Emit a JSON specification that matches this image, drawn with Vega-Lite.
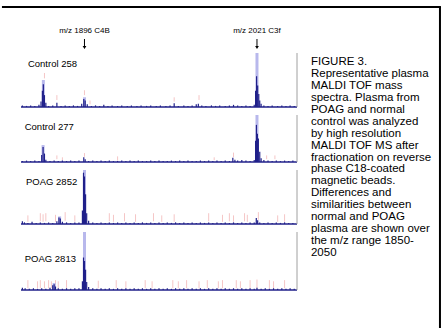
{
"$schema": "https://vega.github.io/schema/vega-lite/v6.json",
"padding": {"left": 0, "top": 6, "right": 0, "bottom": 0},
"background": "white",
"config": {"font": "Liberation Sans", "view": {"stroke": null}},
"datasets": {
"spec": [
{"p":"A","mz":1867,"i":63,"b":53,"k":"t"},{"p":"A","mz":1876,"i":22,"b":13,"k":"t"},{"p":"A","mz":1896,"i":31,"b":22,"k":"t"},{"p":"A","mz":1961,"i":18,"b":10,"k":"t"},{"p":"A","mz":1979,"i":22,"b":13,"k":"t"},{"p":"A","mz":1900,"i":12,"b":5,"k":"t"},
{"p":"A","mz":1866.2,"i":50,"b":0,"k":"h"},{"p":"A","mz":1896,"i":18,"b":0,"k":"h"},{"p":"A","mz":2021,"i":100,"b":0,"k":"h"},
{"p":"A","mz":1851,"i":3,"b":0,"k":"d"},{"p":"A","mz":1854,"i":2,"b":0,"k":"d"},{"p":"A","mz":1857,"i":3,"b":0,"k":"d"},{"p":"A","mz":1860,"i":2,"b":0,"k":"d"},{"p":"A","mz":1863,"i":4,"b":0,"k":"d"},{"p":"A","mz":1864.5,"i":10,"b":0,"k":"d"},{"p":"A","mz":1865.5,"i":30,"b":0,"k":"d"},{"p":"A","mz":1866.2,"i":42,"b":0,"k":"d"},{"p":"A","mz":1867,"i":22,"b":0,"k":"d"},{"p":"A","mz":1868,"i":8,"b":0,"k":"d"},{"p":"A","mz":1870,"i":2,"b":0,"k":"d"},{"p":"A","mz":1873,"i":3,"b":0,"k":"d"},{"p":"A","mz":1876,"i":8,"b":0,"k":"d"},{"p":"A","mz":1879,"i":2,"b":0,"k":"d"},{"p":"A","mz":1882,"i":3,"b":0,"k":"d"},{"p":"A","mz":1885,"i":2,"b":0,"k":"d"},{"p":"A","mz":1888,"i":3,"b":0,"k":"d"},{"p":"A","mz":1891,"i":2,"b":0,"k":"d"},{"p":"A","mz":1894,"i":6,"b":0,"k":"d"},{"p":"A","mz":1895.5,"i":15,"b":0,"k":"d"},{"p":"A","mz":1896.5,"i":12,"b":0,"k":"d"},{"p":"A","mz":1898,"i":5,"b":0,"k":"d"},{"p":"A","mz":1901,"i":2,"b":0,"k":"d"},{"p":"A","mz":1904,"i":3,"b":0,"k":"d"},{"p":"A","mz":1907,"i":2,"b":0,"k":"d"},{"p":"A","mz":1910,"i":4,"b":0,"k":"d"},{"p":"A","mz":1913,"i":2,"b":0,"k":"d"},{"p":"A","mz":1916,"i":3,"b":0,"k":"d"},{"p":"A","mz":1920,"i":2,"b":0,"k":"d"},{"p":"A","mz":1923,"i":3,"b":0,"k":"d"},{"p":"A","mz":1927,"i":2,"b":0,"k":"d"},{"p":"A","mz":1930,"i":3,"b":0,"k":"d"},{"p":"A","mz":1934,"i":2,"b":0,"k":"d"},{"p":"A","mz":1937,"i":3,"b":0,"k":"d"},{"p":"A","mz":1941,"i":2,"b":0,"k":"d"},{"p":"A","mz":1944,"i":3,"b":0,"k":"d"},{"p":"A","mz":1948,"i":2,"b":0,"k":"d"},{"p":"A","mz":1951,"i":3,"b":0,"k":"d"},{"p":"A","mz":1955,"i":2,"b":0,"k":"d"},{"p":"A","mz":1958,"i":3,"b":0,"k":"d"},{"p":"A","mz":1961,"i":7,"b":0,"k":"d"},{"p":"A","mz":1964,"i":2,"b":0,"k":"d"},{"p":"A","mz":1968,"i":3,"b":0,"k":"d"},{"p":"A","mz":1971,"i":2,"b":0,"k":"d"},{"p":"A","mz":1974,"i":3,"b":0,"k":"d"},{"p":"A","mz":1977,"i":5,"b":0,"k":"d"},{"p":"A","mz":1978.5,"i":6,"b":0,"k":"d"},{"p":"A","mz":1981,"i":3,"b":0,"k":"d"},{"p":"A","mz":1984,"i":2,"b":0,"k":"d"},{"p":"A","mz":1988,"i":3,"b":0,"k":"d"},{"p":"A","mz":1991,"i":2,"b":0,"k":"d"},{"p":"A","mz":1994,"i":3,"b":0,"k":"d"},{"p":"A","mz":1998,"i":2,"b":0,"k":"d"},{"p":"A","mz":2001,"i":3,"b":0,"k":"d"},{"p":"A","mz":2004,"i":4,"b":0,"k":"d"},{"p":"A","mz":2007,"i":3,"b":0,"k":"d"},{"p":"A","mz":2010,"i":2,"b":0,"k":"d"},{"p":"A","mz":2013,"i":3,"b":0,"k":"d"},{"p":"A","mz":2016,"i":2,"b":0,"k":"d"},{"p":"A","mz":2019,"i":4,"b":0,"k":"d"},{"p":"A","mz":2020,"i":30,"b":0,"k":"d"},{"p":"A","mz":2020.7,"i":57,"b":0,"k":"d"},{"p":"A","mz":2021.5,"i":40,"b":0,"k":"d"},{"p":"A","mz":2022.3,"i":24,"b":0,"k":"d"},{"p":"A","mz":2023,"i":12,"b":0,"k":"d"},{"p":"A","mz":2024,"i":6,"b":0,"k":"d"},{"p":"A","mz":2026,"i":3,"b":0,"k":"d"},{"p":"A","mz":2029,"i":2,"b":0,"k":"d"},{"p":"A","mz":2032,"i":3,"b":0,"k":"d"},{"p":"A","mz":2036,"i":2,"b":0,"k":"d"},{"p":"A","mz":2039,"i":3,"b":0,"k":"d"},{"p":"A","mz":2042,"i":2,"b":0,"k":"d"},{"p":"A","mz":2045,"i":3,"b":0,"k":"d"},{"p":"A","mz":2048,"i":2,"b":0,"k":"d"},

{"p":"B","mz":1876,"i":14,"b":6,"k":"t"},{"p":"B","mz":1880,"i":10,"b":4,"k":"t"},{"p":"B","mz":1896,"i":19,"b":11,"k":"t"},{"p":"B","mz":1920,"i":12,"b":3,"k":"t"},{"p":"B","mz":2004,"i":20,"b":10,"k":"t"},{"p":"B","mz":2028,"i":14,"b":6,"k":"t"},{"p":"B","mz":2034,"i":14,"b":6,"k":"t"},{"p":"B","mz":1990,"i":10,"b":4,"k":"t"},
{"p":"B","mz":1866,"i":36,"b":0,"k":"h"},{"p":"B","mz":2021,"i":100,"b":0,"k":"h"},
{"p":"B","mz":1851,"i":2,"b":0,"k":"d"},{"p":"B","mz":1854,"i":3,"b":0,"k":"d"},{"p":"B","mz":1857,"i":2,"b":0,"k":"d"},{"p":"B","mz":1860,"i":3,"b":0,"k":"d"},{"p":"B","mz":1863,"i":2,"b":0,"k":"d"},{"p":"B","mz":1865,"i":15,"b":0,"k":"d"},{"p":"B","mz":1866,"i":32,"b":0,"k":"d"},{"p":"B","mz":1867,"i":18,"b":0,"k":"d"},{"p":"B","mz":1868,"i":5,"b":0,"k":"d"},{"p":"B","mz":1871,"i":2,"b":0,"k":"d"},{"p":"B","mz":1874,"i":3,"b":0,"k":"d"},{"p":"B","mz":1877,"i":2,"b":0,"k":"d"},{"p":"B","mz":1880,"i":3,"b":0,"k":"d"},{"p":"B","mz":1883,"i":2,"b":0,"k":"d"},{"p":"B","mz":1886,"i":3,"b":0,"k":"d"},{"p":"B","mz":1889,"i":2,"b":0,"k":"d"},{"p":"B","mz":1892,"i":3,"b":0,"k":"d"},{"p":"B","mz":1895.5,"i":10,"b":0,"k":"d"},{"p":"B","mz":1896.5,"i":6,"b":0,"k":"d"},{"p":"B","mz":1899,"i":2,"b":0,"k":"d"},{"p":"B","mz":1902,"i":3,"b":0,"k":"d"},{"p":"B","mz":1905,"i":2,"b":0,"k":"d"},{"p":"B","mz":1908,"i":3,"b":0,"k":"d"},{"p":"B","mz":1911,"i":2,"b":0,"k":"d"},{"p":"B","mz":1914,"i":3,"b":0,"k":"d"},{"p":"B","mz":1917,"i":2,"b":0,"k":"d"},{"p":"B","mz":1920,"i":2,"b":0,"k":"d"},{"p":"B","mz":1923,"i":3,"b":0,"k":"d"},{"p":"B","mz":1926,"i":2,"b":0,"k":"d"},{"p":"B","mz":1929,"i":3,"b":0,"k":"d"},{"p":"B","mz":1932,"i":2,"b":0,"k":"d"},{"p":"B","mz":1935,"i":3,"b":0,"k":"d"},{"p":"B","mz":1938,"i":2,"b":0,"k":"d"},{"p":"B","mz":1941,"i":2,"b":0,"k":"d"},{"p":"B","mz":1944,"i":3,"b":0,"k":"d"},{"p":"B","mz":1947,"i":2,"b":0,"k":"d"},{"p":"B","mz":1950,"i":3,"b":0,"k":"d"},{"p":"B","mz":1953,"i":2,"b":0,"k":"d"},{"p":"B","mz":1956,"i":2,"b":0,"k":"d"},{"p":"B","mz":1959,"i":3,"b":0,"k":"d"},{"p":"B","mz":1962,"i":2,"b":0,"k":"d"},{"p":"B","mz":1965,"i":3,"b":0,"k":"d"},{"p":"B","mz":1968,"i":2,"b":0,"k":"d"},{"p":"B","mz":1971,"i":3,"b":0,"k":"d"},{"p":"B","mz":1974,"i":2,"b":0,"k":"d"},{"p":"B","mz":1977,"i":2,"b":0,"k":"d"},{"p":"B","mz":1980,"i":3,"b":0,"k":"d"},{"p":"B","mz":1983,"i":2,"b":0,"k":"d"},{"p":"B","mz":1986,"i":3,"b":0,"k":"d"},{"p":"B","mz":1989,"i":2,"b":0,"k":"d"},{"p":"B","mz":1992,"i":3,"b":0,"k":"d"},{"p":"B","mz":1995,"i":2,"b":0,"k":"d"},{"p":"B","mz":1998,"i":3,"b":0,"k":"d"},{"p":"B","mz":2001,"i":2,"b":0,"k":"d"},{"p":"B","mz":2003.5,"i":9,"b":0,"k":"d"},{"p":"B","mz":2005,"i":5,"b":0,"k":"d"},{"p":"B","mz":2007,"i":3,"b":0,"k":"d"},{"p":"B","mz":2010,"i":4,"b":0,"k":"d"},{"p":"B","mz":2013,"i":3,"b":0,"k":"d"},{"p":"B","mz":2016,"i":2,"b":0,"k":"d"},{"p":"B","mz":2019,"i":4,"b":0,"k":"d"},{"p":"B","mz":2020,"i":45,"b":0,"k":"d"},{"p":"B","mz":2020.6,"i":79,"b":0,"k":"d"},{"p":"B","mz":2021.3,"i":60,"b":0,"k":"d"},{"p":"B","mz":2022,"i":50,"b":0,"k":"d"},{"p":"B","mz":2023,"i":22,"b":0,"k":"d"},{"p":"B","mz":2024,"i":8,"b":0,"k":"d"},{"p":"B","mz":2026,"i":4,"b":0,"k":"d"},{"p":"B","mz":2029,"i":3,"b":0,"k":"d"},{"p":"B","mz":2032,"i":2,"b":0,"k":"d"},{"p":"B","mz":2035,"i":3,"b":0,"k":"d"},{"p":"B","mz":2038,"i":2,"b":0,"k":"d"},{"p":"B","mz":2041,"i":3,"b":0,"k":"d"},{"p":"B","mz":2044,"i":2,"b":0,"k":"d"},{"p":"B","mz":2047,"i":3,"b":0,"k":"d"},

{"p":"C","mz":1855,"i":16,"b":4,"k":"t"},{"p":"C","mz":1864,"i":20,"b":5,"k":"t"},{"p":"C","mz":1866,"i":18,"b":4,"k":"t"},{"p":"C","mz":1868,"i":20,"b":5,"k":"t"},{"p":"C","mz":1875,"i":17,"b":4,"k":"t"},{"p":"C","mz":1882,"i":22,"b":6,"k":"t"},{"p":"C","mz":1889,"i":16,"b":4,"k":"t"},{"p":"C","mz":1914,"i":20,"b":5,"k":"t"},{"p":"C","mz":1917,"i":17,"b":4,"k":"t"},{"p":"C","mz":1925,"i":20,"b":5,"k":"t"},{"p":"C","mz":1933,"i":18,"b":4,"k":"t"},{"p":"C","mz":1946,"i":20,"b":5,"k":"t"},{"p":"C","mz":1952,"i":16,"b":4,"k":"t"},{"p":"C","mz":1961,"i":18,"b":4,"k":"t"},{"p":"C","mz":1986,"i":20,"b":5,"k":"t"},{"p":"C","mz":1996,"i":17,"b":4,"k":"t"},{"p":"C","mz":2001,"i":20,"b":5,"k":"t"},{"p":"C","mz":2004,"i":16,"b":4,"k":"t"},{"p":"C","mz":2012,"i":20,"b":5,"k":"t"},{"p":"C","mz":2014,"i":17,"b":4,"k":"t"},{"p":"C","mz":2022,"i":22,"b":8,"k":"t"},{"p":"C","mz":2036,"i":16,"b":4,"k":"t"},{"p":"C","mz":2041,"i":18,"b":4,"k":"t"},
{"p":"C","mz":1896,"i":100,"b":0,"k":"h"},{"p":"C","mz":1878,"i":14,"b":0,"k":"h"},
{"p":"C","mz":1851,"i":5,"b":0,"k":"d"},{"p":"C","mz":1852.5,"i":3,"b":0,"k":"d"},{"p":"C","mz":1855,"i":2,"b":0,"k":"d"},{"p":"C","mz":1858,"i":4,"b":0,"k":"d"},{"p":"C","mz":1861,"i":2,"b":0,"k":"d"},{"p":"C","mz":1864,"i":3,"b":0,"k":"d"},{"p":"C","mz":1867,"i":2,"b":0,"k":"d"},{"p":"C","mz":1870,"i":3,"b":0,"k":"d"},{"p":"C","mz":1873,"i":2,"b":0,"k":"d"},{"p":"C","mz":1876,"i":5,"b":0,"k":"d"},{"p":"C","mz":1877.5,"i":12,"b":0,"k":"d"},{"p":"C","mz":1878.5,"i":10,"b":0,"k":"d"},{"p":"C","mz":1880,"i":4,"b":0,"k":"d"},{"p":"C","mz":1883,"i":3,"b":0,"k":"d"},{"p":"C","mz":1886,"i":2,"b":0,"k":"d"},{"p":"C","mz":1889,"i":3,"b":0,"k":"d"},{"p":"C","mz":1892,"i":3,"b":0,"k":"d"},{"p":"C","mz":1894.5,"i":25,"b":0,"k":"d"},{"p":"C","mz":1895.3,"i":95,"b":0,"k":"d"},{"p":"C","mz":1896,"i":88,"b":0,"k":"d"},{"p":"C","mz":1896.8,"i":55,"b":0,"k":"d"},{"p":"C","mz":1897.6,"i":20,"b":0,"k":"d"},{"p":"C","mz":1899,"i":6,"b":0,"k":"d"},{"p":"C","mz":1902,"i":3,"b":0,"k":"d"},{"p":"C","mz":1905,"i":2,"b":0,"k":"d"},{"p":"C","mz":1908,"i":3,"b":0,"k":"d"},{"p":"C","mz":1911,"i":2,"b":0,"k":"d"},{"p":"C","mz":1914,"i":3,"b":0,"k":"d"},{"p":"C","mz":1917,"i":2,"b":0,"k":"d"},{"p":"C","mz":1920,"i":3,"b":0,"k":"d"},{"p":"C","mz":1923,"i":2,"b":0,"k":"d"},{"p":"C","mz":1926,"i":3,"b":0,"k":"d"},{"p":"C","mz":1929,"i":2,"b":0,"k":"d"},{"p":"C","mz":1932,"i":3,"b":0,"k":"d"},{"p":"C","mz":1935,"i":2,"b":0,"k":"d"},{"p":"C","mz":1938,"i":3,"b":0,"k":"d"},{"p":"C","mz":1941,"i":2,"b":0,"k":"d"},{"p":"C","mz":1944,"i":3,"b":0,"k":"d"},{"p":"C","mz":1947,"i":2,"b":0,"k":"d"},{"p":"C","mz":1950,"i":3,"b":0,"k":"d"},{"p":"C","mz":1953,"i":2,"b":0,"k":"d"},{"p":"C","mz":1956,"i":3,"b":0,"k":"d"},{"p":"C","mz":1959,"i":2,"b":0,"k":"d"},{"p":"C","mz":1962,"i":3,"b":0,"k":"d"},{"p":"C","mz":1965,"i":2,"b":0,"k":"d"},{"p":"C","mz":1968,"i":3,"b":0,"k":"d"},{"p":"C","mz":1971,"i":2,"b":0,"k":"d"},{"p":"C","mz":1974,"i":3,"b":0,"k":"d"},{"p":"C","mz":1977,"i":2,"b":0,"k":"d"},{"p":"C","mz":1980,"i":3,"b":0,"k":"d"},{"p":"C","mz":1983,"i":2,"b":0,"k":"d"},{"p":"C","mz":1986,"i":3,"b":0,"k":"d"},{"p":"C","mz":1989,"i":2,"b":0,"k":"d"},{"p":"C","mz":1992,"i":3,"b":0,"k":"d"},{"p":"C","mz":1995,"i":2,"b":0,"k":"d"},{"p":"C","mz":1998,"i":3,"b":0,"k":"d"},{"p":"C","mz":2001,"i":2,"b":0,"k":"d"},{"p":"C","mz":2004,"i":3,"b":0,"k":"d"},{"p":"C","mz":2007,"i":2,"b":0,"k":"d"},{"p":"C","mz":2010,"i":3,"b":0,"k":"d"},{"p":"C","mz":2013,"i":2,"b":0,"k":"d"},{"p":"C","mz":2016,"i":3,"b":0,"k":"d"},{"p":"C","mz":2019,"i":3,"b":0,"k":"d"},{"p":"C","mz":2020.5,"i":11,"b":0,"k":"d"},{"p":"C","mz":2021.5,"i":7,"b":0,"k":"d"},{"p":"C","mz":2023,"i":3,"b":0,"k":"d"},{"p":"C","mz":2026,"i":2,"b":0,"k":"d"},{"p":"C","mz":2029,"i":3,"b":0,"k":"d"},{"p":"C","mz":2032,"i":2,"b":0,"k":"d"},{"p":"C","mz":2035,"i":3,"b":0,"k":"d"},{"p":"C","mz":2038,"i":2,"b":0,"k":"d"},{"p":"C","mz":2041,"i":3,"b":0,"k":"d"},{"p":"C","mz":2044,"i":2,"b":0,"k":"d"},{"p":"C","mz":2047,"i":2,"b":0,"k":"d"},

{"p":"D","mz":1855,"i":17,"b":3,"k":"t"},{"p":"D","mz":1862,"i":15,"b":3,"k":"t"},{"p":"D","mz":1864,"i":17,"b":3,"k":"t"},{"p":"D","mz":1867,"i":15,"b":3,"k":"t"},{"p":"D","mz":1870,"i":17,"b":3,"k":"t"},{"p":"D","mz":1872,"i":15,"b":3,"k":"t"},{"p":"D","mz":1875,"i":17,"b":3,"k":"t"},{"p":"D","mz":1877,"i":15,"b":3,"k":"t"},{"p":"D","mz":1883,"i":17,"b":3,"k":"t"},{"p":"D","mz":1906,"i":16,"b":3,"k":"t"},{"p":"D","mz":1919,"i":17,"b":3,"k":"t"},{"p":"D","mz":1926,"i":15,"b":3,"k":"t"},{"p":"D","mz":1940,"i":17,"b":3,"k":"t"},{"p":"D","mz":1945,"i":15,"b":3,"k":"t"},{"p":"D","mz":1960,"i":17,"b":3,"k":"t"},{"p":"D","mz":1964,"i":15,"b":3,"k":"t"},{"p":"D","mz":1970,"i":17,"b":3,"k":"t"},{"p":"D","mz":1979,"i":15,"b":3,"k":"t"},{"p":"D","mz":1985,"i":17,"b":3,"k":"t"},{"p":"D","mz":1993,"i":15,"b":3,"k":"t"},{"p":"D","mz":1996,"i":17,"b":3,"k":"t"},{"p":"D","mz":2006,"i":17,"b":3,"k":"t"},{"p":"D","mz":2009,"i":15,"b":3,"k":"t"},{"p":"D","mz":2016,"i":17,"b":3,"k":"t"},{"p":"D","mz":2021,"i":18,"b":3,"k":"t"},{"p":"D","mz":2030,"i":17,"b":3,"k":"t"},{"p":"D","mz":2033,"i":15,"b":3,"k":"t"},{"p":"D","mz":2041,"i":17,"b":3,"k":"t"},
{"p":"D","mz":1896,"i":100,"b":0,"k":"h"},{"p":"D","mz":1874,"i":12,"b":0,"k":"h"},
{"p":"D","mz":1851,"i":4,"b":0,"k":"d"},{"p":"D","mz":1853,"i":3,"b":0,"k":"d"},{"p":"D","mz":1856,"i":2,"b":0,"k":"d"},{"p":"D","mz":1859,"i":3,"b":0,"k":"d"},{"p":"D","mz":1862,"i":2,"b":0,"k":"d"},{"p":"D","mz":1865,"i":3,"b":0,"k":"d"},{"p":"D","mz":1868,"i":2,"b":0,"k":"d"},{"p":"D","mz":1871,"i":4,"b":0,"k":"d"},{"p":"D","mz":1873,"i":8,"b":0,"k":"d"},{"p":"D","mz":1874,"i":10,"b":0,"k":"d"},{"p":"D","mz":1875,"i":6,"b":0,"k":"d"},{"p":"D","mz":1877,"i":3,"b":0,"k":"d"},{"p":"D","mz":1880,"i":2,"b":0,"k":"d"},{"p":"D","mz":1883,"i":3,"b":0,"k":"d"},{"p":"D","mz":1886,"i":2,"b":0,"k":"d"},{"p":"D","mz":1889,"i":3,"b":0,"k":"d"},{"p":"D","mz":1892,"i":3,"b":0,"k":"d"},{"p":"D","mz":1894.5,"i":15,"b":0,"k":"d"},{"p":"D","mz":1895.3,"i":56,"b":0,"k":"d"},{"p":"D","mz":1896,"i":50,"b":0,"k":"d"},{"p":"D","mz":1896.8,"i":35,"b":0,"k":"d"},{"p":"D","mz":1897.6,"i":14,"b":0,"k":"d"},{"p":"D","mz":1899,"i":5,"b":0,"k":"d"},{"p":"D","mz":1902,"i":3,"b":0,"k":"d"},{"p":"D","mz":1905,"i":2,"b":0,"k":"d"},{"p":"D","mz":1908,"i":3,"b":0,"k":"d"},{"p":"D","mz":1911,"i":2,"b":0,"k":"d"},{"p":"D","mz":1914,"i":3,"b":0,"k":"d"},{"p":"D","mz":1917,"i":2,"b":0,"k":"d"},{"p":"D","mz":1920,"i":3,"b":0,"k":"d"},{"p":"D","mz":1923,"i":2,"b":0,"k":"d"},{"p":"D","mz":1926,"i":3,"b":0,"k":"d"},{"p":"D","mz":1929,"i":2,"b":0,"k":"d"},{"p":"D","mz":1932,"i":3,"b":0,"k":"d"},{"p":"D","mz":1935,"i":2,"b":0,"k":"d"},{"p":"D","mz":1938,"i":3,"b":0,"k":"d"},{"p":"D","mz":1941,"i":2,"b":0,"k":"d"},{"p":"D","mz":1944,"i":3,"b":0,"k":"d"},{"p":"D","mz":1947,"i":2,"b":0,"k":"d"},{"p":"D","mz":1950,"i":3,"b":0,"k":"d"},{"p":"D","mz":1953,"i":2,"b":0,"k":"d"},{"p":"D","mz":1956,"i":3,"b":0,"k":"d"},{"p":"D","mz":1959,"i":2,"b":0,"k":"d"},{"p":"D","mz":1962,"i":3,"b":0,"k":"d"},{"p":"D","mz":1965,"i":2,"b":0,"k":"d"},{"p":"D","mz":1968,"i":3,"b":0,"k":"d"},{"p":"D","mz":1971,"i":2,"b":0,"k":"d"},{"p":"D","mz":1974,"i":3,"b":0,"k":"d"},{"p":"D","mz":1977,"i":2,"b":0,"k":"d"},{"p":"D","mz":1980,"i":3,"b":0,"k":"d"},{"p":"D","mz":1983,"i":2,"b":0,"k":"d"},{"p":"D","mz":1986,"i":3,"b":0,"k":"d"},{"p":"D","mz":1989,"i":2,"b":0,"k":"d"},{"p":"D","mz":1992,"i":3,"b":0,"k":"d"},{"p":"D","mz":1995,"i":2,"b":0,"k":"d"},{"p":"D","mz":1998,"i":3,"b":0,"k":"d"},{"p":"D","mz":2001,"i":2,"b":0,"k":"d"},{"p":"D","mz":2004,"i":3,"b":0,"k":"d"},{"p":"D","mz":2007,"i":2,"b":0,"k":"d"},{"p":"D","mz":2010,"i":3,"b":0,"k":"d"},{"p":"D","mz":2013,"i":2,"b":0,"k":"d"},{"p":"D","mz":2016,"i":3,"b":0,"k":"d"},{"p":"D","mz":2019,"i":2,"b":0,"k":"d"},{"p":"D","mz":2021,"i":4,"b":0,"k":"d"},{"p":"D","mz":2024,"i":2,"b":0,"k":"d"},{"p":"D","mz":2027,"i":3,"b":0,"k":"d"},{"p":"D","mz":2030,"i":2,"b":0,"k":"d"},{"p":"D","mz":2033,"i":3,"b":0,"k":"d"},{"p":"D","mz":2036,"i":2,"b":0,"k":"d"},{"p":"D","mz":2039,"i":3,"b":0,"k":"d"},{"p":"D","mz":2042,"i":2,"b":0,"k":"d"},{"p":"D","mz":2045,"i":3,"b":0,"k":"d"},{"p":"D","mz":2048,"i":2,"b":0,"k":"d"}
],
"cap": [
{"line":0,"text":"FIGURE 3."},
{"line":1,"text":"Representative plasma"},
{"line":2,"text":"MALDI TOF mass"},
{"line":3,"text":"spectra. Plasma from"},
{"line":4,"text":"POAG and normal"},
{"line":5,"text":"control was analyzed"},
{"line":6,"text":"by high resolution"},
{"line":7,"text":"MALDI TOF MS after"},
{"line":8,"text":"fractionation on reverse"},
{"line":9,"text":"phase C18-coated"},
{"line":10,"text":"magnetic beads."},
{"line":11,"text":"Differences and"},
{"line":12,"text":"similarities between"},
{"line":13,"text":"normal and POAG"},
{"line":14,"text":"plasma are shown over"},
{"line":15,"text":"the m/z range 1850-"},
{"line":16,"text":"2050"}
],
"ann": [
{"mz":1896,"label":"m/z 1896 C4B"},
{"mz":2021,"label":"m/z 2021 C3f"}
]
},
"bounds": "flush",
"spacing": 8,
"vconcat": [
{
"width": 276, "height": 38,
"resolve": {"scale": {"y": "independent"}},
"layer": [
{"data": {"values": [{}]}, "mark": {"type": "rule", "color": "black", "strokeWidth": 2},
 "encoding": {"x": {"datum": 1836.2, "type": "quantitative", "scale": {"domain": [1850, 2050], "nice": false, "zero": false}, "axis": null},
  "x2": {"datum": 2154.3}, "y": {"datum": 0, "type": "quantitative", "scale": {"domain": [0, 38], "reverse": true, "nice": false, "zero": false}, "axis": null}}},
{"data": {"values": [{}]}, "mark": {"type": "rule", "color": "black", "strokeWidth": 2},
 "encoding": {"x": {"datum": 2153.6, "type": "quantitative", "axis": null},
  "y": {"datum": 0, "type": "quantitative", "scale": {"domain": [0, 38], "reverse": true, "nice": false, "zero": false}, "axis": null}, "y2": {"datum": 321}}},
{"data": {"name": "ann"}, "mark": {"type": "text", "align": "center", "baseline": "middle", "fontSize": 8, "color": "black"},
 "encoding": {"x": {"field": "mz", "type": "quantitative", "axis": null},
  "y": {"datum": 24, "type": "quantitative", "scale": {"domain": [0, 38], "reverse": true, "nice": false, "zero": false}, "axis": null}, "text": {"field": "label"}}},
{"data": {"name": "ann"}, "mark": {"type": "rule", "color": "black", "strokeWidth": 1},
 "encoding": {"x": {"field": "mz", "type": "quantitative", "axis": null},
  "y": {"datum": 32, "type": "quantitative", "scale": {"domain": [0, 38], "reverse": true, "nice": false, "zero": false}, "axis": null}, "y2": {"datum": 40}}},
{"data": {"name": "ann"}, "mark": {"type": "point", "shape": "triangle-down", "filled": true, "color": "black", "size": 14, "opacity": 1},
 "encoding": {"x": {"field": "mz", "type": "quantitative", "axis": null},
  "y": {"datum": 40.5, "type": "quantitative", "scale": {"domain": [0, 38], "reverse": true, "nice": false, "zero": false}, "axis": null}}},
{"data": {"name": "cap"}, "mark": {"type": "text", "align": "left", "baseline": "alphabetic", "fontSize": 11.5, "color": "black"},
 "encoding": {"x": {"datum": 2060.1, "type": "quantitative", "axis": null},
  "y": {"field": "line", "type": "quantitative", "scale": {"domain": [-4.858, -1.675], "reverse": true, "nice": false, "zero": false}, "axis": null},
  "text": {"field": "text"}}}
]
},
{
"width": 276, "height": 54,
"data": {"name": "spec"},
"transform": [{"filter": "datum.p === 'A'"}],
"layer": [
{"transform": [{"filter": "datum.k === 't'"}], "mark": {"type": "rule", "color": "#f5c6c6", "strokeWidth": 1},
 "encoding": {"x": {"field": "mz", "type": "quantitative", "scale": {"domain": [1850, 2050], "nice": false, "zero": false}, "axis": null},
  "y": {"field": "i", "type": "quantitative", "scale": {"domain": [0, 100], "nice": false}, "axis": {"title": null, "labels": false, "grid": false, "tickCount": 10, "tickSize": 2, "domainColor": "#a0a0a0", "tickColor": "#a0a0a0"}},
  "y2": {"field": "b"}}},
{"transform": [{"filter": "datum.k === 'h'"}], "mark": {"type": "rule", "color": "#b8b8ec", "strokeWidth": 3},
 "encoding": {"x": {"field": "mz", "type": "quantitative", "axis": null}, "y": {"field": "i", "type": "quantitative", "axis": null}, "y2": {"field": "b"}}},
{"transform": [{"filter": "datum.k === 'd'"}], "mark": {"type": "rule", "color": "#20208a", "strokeWidth": 1.2},
 "encoding": {"x": {"field": "mz", "type": "quantitative", "axis": null}, "y": {"field": "i", "type": "quantitative", "axis": null}, "y2": {"field": "b"}}},
{"data": {"values": [{}]}, "mark": {"type": "rule", "color": "#20208a", "strokeWidth": 1.5}, "encoding": {"y": {"datum": 0, "type": "quantitative", "axis": null}}},
{"data": {"values": [{}]}, "mark": {"type": "rule", "color": "#a0a0a0", "strokeWidth": 1}, "encoding": {"x": {"datum": 2050, "type": "quantitative", "axis": null}}},
{"data": {"values": [{"label": "Control 258"}]}, "mark": {"type": "text", "align": "left", "baseline": "middle", "fontSize": 9.5, "color": "black"},
 "encoding": {"x": {"datum": 1855, "type": "quantitative", "axis": null}, "y": {"datum": 80, "type": "quantitative", "axis": null}, "text": {"field": "label"}}}
]
},
{
"width": 276, "height": 47,
"data": {"name": "spec"},
"transform": [{"filter": "datum.p === 'B'"}],
"layer": [
{"transform": [{"filter": "datum.k === 't'"}], "mark": {"type": "rule", "color": "#f5c6c6", "strokeWidth": 1},
 "encoding": {"x": {"field": "mz", "type": "quantitative", "scale": {"domain": [1850, 2050], "nice": false, "zero": false}, "axis": null},
  "y": {"field": "i", "type": "quantitative", "scale": {"domain": [0, 100], "nice": false}, "axis": {"title": null, "labels": false, "grid": false, "tickCount": 10, "tickSize": 2, "domainColor": "#a0a0a0", "tickColor": "#a0a0a0"}},
  "y2": {"field": "b"}}},
{"transform": [{"filter": "datum.k === 'h'"}], "mark": {"type": "rule", "color": "#b8b8ec", "strokeWidth": 3},
 "encoding": {"x": {"field": "mz", "type": "quantitative", "axis": null}, "y": {"field": "i", "type": "quantitative", "axis": null}, "y2": {"field": "b"}}},
{"transform": [{"filter": "datum.k === 'd'"}], "mark": {"type": "rule", "color": "#20208a", "strokeWidth": 1.2},
 "encoding": {"x": {"field": "mz", "type": "quantitative", "axis": null}, "y": {"field": "i", "type": "quantitative", "axis": null}, "y2": {"field": "b"}}},
{"data": {"values": [{}]}, "mark": {"type": "rule", "color": "#20208a", "strokeWidth": 1.5}, "encoding": {"y": {"datum": 0, "type": "quantitative", "axis": null}}},
{"data": {"values": [{}]}, "mark": {"type": "rule", "color": "#a0a0a0", "strokeWidth": 1}, "encoding": {"x": {"datum": 2050, "type": "quantitative", "axis": null}}},
{"data": {"values": [{"label": "Control 277"}]}, "mark": {"type": "text", "align": "left", "baseline": "middle", "fontSize": 9.5, "color": "black"},
 "encoding": {"x": {"datum": 1852.7, "type": "quantitative", "axis": null}, "y": {"datum": 74, "type": "quantitative", "axis": null}, "text": {"field": "label"}}}
]
},
{
"width": 276, "height": 54,
"data": {"name": "spec"},
"transform": [{"filter": "datum.p === 'C'"}],
"layer": [
{"transform": [{"filter": "datum.k === 't'"}], "mark": {"type": "rule", "color": "#f5c6c6", "strokeWidth": 1},
 "encoding": {"x": {"field": "mz", "type": "quantitative", "scale": {"domain": [1850, 2050], "nice": false, "zero": false}, "axis": null},
  "y": {"field": "i", "type": "quantitative", "scale": {"domain": [0, 100], "nice": false}, "axis": {"title": null, "labels": false, "grid": false, "tickCount": 10, "tickSize": 2, "domainColor": "#a0a0a0", "tickColor": "#a0a0a0"}},
  "y2": {"field": "b"}}},
{"transform": [{"filter": "datum.k === 'h'"}], "mark": {"type": "rule", "color": "#b8b8ec", "strokeWidth": 3},
 "encoding": {"x": {"field": "mz", "type": "quantitative", "axis": null}, "y": {"field": "i", "type": "quantitative", "axis": null}, "y2": {"field": "b"}}},
{"transform": [{"filter": "datum.k === 'd'"}], "mark": {"type": "rule", "color": "#20208a", "strokeWidth": 1.2},
 "encoding": {"x": {"field": "mz", "type": "quantitative", "axis": null}, "y": {"field": "i", "type": "quantitative", "axis": null}, "y2": {"field": "b"}}},
{"data": {"values": [{}]}, "mark": {"type": "rule", "color": "#20208a", "strokeWidth": 1.5}, "encoding": {"y": {"datum": 0, "type": "quantitative", "axis": null}}},
{"data": {"values": [{}]}, "mark": {"type": "rule", "color": "#a0a0a0", "strokeWidth": 1}, "encoding": {"x": {"datum": 2050, "type": "quantitative", "axis": null}}},
{"data": {"values": [{"label": "POAG 2852"}]}, "mark": {"type": "text", "align": "left", "baseline": "middle", "fontSize": 9.5, "color": "black"},
 "encoding": {"x": {"datum": 1853.6, "type": "quantitative", "axis": null}, "y": {"datum": 78, "type": "quantitative", "axis": null}, "text": {"field": "label"}}}
]
},
{
"width": 276, "height": 58,
"data": {"name": "spec"},
"transform": [{"filter": "datum.p === 'D'"}],
"layer": [
{"transform": [{"filter": "datum.k === 't'"}], "mark": {"type": "rule", "color": "#f5c6c6", "strokeWidth": 1},
 "encoding": {"x": {"field": "mz", "type": "quantitative", "scale": {"domain": [1850, 2050], "nice": false, "zero": false},
   "axis": {"values": [1850, 2050], "title": "m/z", "labelFontSize": 6.5, "labelFontWeight": "bold", "labelColor": "black", "domain": false, "ticks": false, "grid": false, "labelPadding": 7, "titleFontSize": 6.5, "titleFontWeight": "bold", "titleColor": "black", "titlePadding": -8}},
  "y": {"field": "i", "type": "quantitative", "scale": {"domain": [0, 100], "nice": false}, "axis": {"title": null, "labels": false, "grid": false, "tickCount": 10, "tickSize": 2, "domainColor": "#a0a0a0", "tickColor": "#a0a0a0"}},
  "y2": {"field": "b"}}},
{"transform": [{"filter": "datum.k === 'h'"}], "mark": {"type": "rule", "color": "#b8b8ec", "strokeWidth": 3},
 "encoding": {"x": {"field": "mz", "type": "quantitative", "axis": null}, "y": {"field": "i", "type": "quantitative", "axis": null}, "y2": {"field": "b"}}},
{"transform": [{"filter": "datum.k === 'd'"}], "mark": {"type": "rule", "color": "#20208a", "strokeWidth": 1.2},
 "encoding": {"x": {"field": "mz", "type": "quantitative", "axis": null}, "y": {"field": "i", "type": "quantitative", "axis": null}, "y2": {"field": "b"}}},
{"data": {"values": [{}]}, "mark": {"type": "rule", "color": "#20208a", "strokeWidth": 1.5}, "encoding": {"y": {"datum": 0, "type": "quantitative", "axis": null}}},
{"data": {"values": [{}]}, "mark": {"type": "rule", "color": "#a0a0a0", "strokeWidth": 1}, "encoding": {"x": {"datum": 2050, "type": "quantitative", "axis": null}}},
{"data": {"values": [{"label": "POAG 2813"}]}, "mark": {"type": "text", "align": "left", "baseline": "middle", "fontSize": 9.5, "color": "black"},
 "encoding": {"x": {"datum": 1852.7, "type": "quantitative", "axis": null}, "y": {"datum": 53, "type": "quantitative", "axis": null}, "text": {"field": "label"}}}
]
}
]
}
